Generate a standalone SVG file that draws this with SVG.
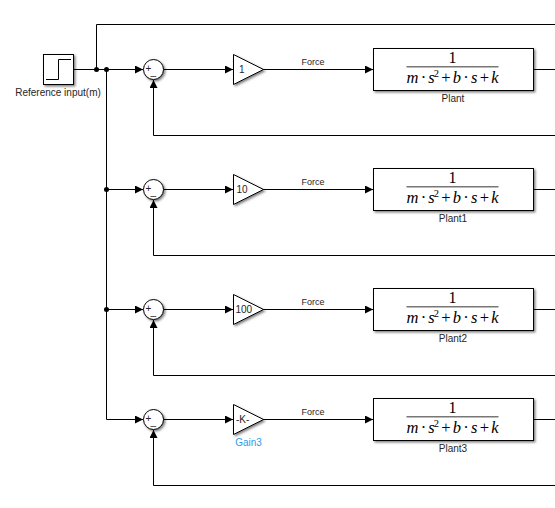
<svg xmlns="http://www.w3.org/2000/svg" width="555" height="508" viewBox="0 0 555 508">
<defs>
<filter id="sh" x="-20%" y="-20%" width="150%" height="150%"><feDropShadow dx="1.5" dy="1.5" stdDeviation="1.3" flood-color="#000" flood-opacity="0.5"/></filter>
<marker id="arr" markerUnits="userSpaceOnUse" markerWidth="9" markerHeight="9" refX="8" refY="4" orient="auto"><path d="M0 0L8 4L0 8Z" fill="#000"/></marker>
<g id="tf">
<rect x="0" y="-22" width="160" height="42" class="b" filter="url(#sh)"/>
<line x1="33" x2="125" y1="-3.800" y2="-3.800" stroke="#777" stroke-width="1.6"/>
<text x="79" y="-7.500" class="m" text-anchor="middle" font-size="16">1</text>
<text x="33" y="12.200" class="m" font-size="16.500" textLength="92"><tspan font-style="italic">m</tspan> · <tspan font-style="italic">s</tspan><tspan dy="-6" font-size="10.500">2</tspan><tspan dy="6"> + </tspan><tspan font-style="italic">b</tspan> · <tspan font-style="italic">s</tspan> + <tspan font-style="italic">k</tspan></text>
</g>
<g id="sum">
<circle cx="0" cy="0" r="10" class="b" filter="url(#sh)"/>
<text x="-8" y="2.500" class="l t">+</text>
<text x="-3" y="5" class="l t">_</text>
</g>
</defs>
<style>
.b{fill:#fff;stroke:#000;stroke-width:1}
.w{fill:none;stroke:#000;stroke-width:1}
.l{font-family:"Liberation Sans",Arial,sans-serif;font-size:9px;fill:#262626}
.t{font-size:10px}
.m{font-family:"Liberation Serif","Times New Roman",serif;fill:#000}
.c{text-anchor:middle}
.d{fill:#000}
</style>
<g id="connectors">
<path class="w" d="M73 69.500H143" marker-end="url(#arr)"/>
<path class="w" d="M96.500 69.500V24.500H555"/>
<path class="w" d="M106.500 69.500V419.500H143" marker-end="url(#arr)"/>
<path class="w" d="M106.500 189.500H143" marker-end="url(#arr)"/>
<path class="w" d="M106.500 309.500H143" marker-end="url(#arr)"/>
<circle class="d" cx="96.500" cy="69.500" r="2.500"/><circle class="d" cx="106.500" cy="69.500" r="2.500"/>
<circle class="d" cx="106.500" cy="189.500" r="2.500"/><circle class="d" cx="106.500" cy="309.500" r="2.500"/>
<path class="w" d="M163 69.500H233" marker-end="url(#arr)"/>
<path class="w" d="M163 189.500H233" marker-end="url(#arr)"/>
<path class="w" d="M163 309.500H233" marker-end="url(#arr)"/>
<path class="w" d="M163 419.500H233" marker-end="url(#arr)"/>
<path class="w" d="M263 69.500H373" marker-end="url(#arr)"/>
<path class="w" d="M263 189.500H373" marker-end="url(#arr)"/>
<path class="w" d="M263 309.500H373" marker-end="url(#arr)"/>
<path class="w" d="M263 419.500H373" marker-end="url(#arr)"/>
<path class="w" d="M533 69.500H555"/><path class="w" d="M533 189.500H555"/><path class="w" d="M533 309.500H555"/><path class="w" d="M533 419.500H555"/>
<path class="w" d="M555 135.500H153.500V80" marker-end="url(#arr)"/>
<path class="w" d="M555 255.500H153.500V200" marker-end="url(#arr)"/>
<path class="w" d="M555 375.500H153.500V320" marker-end="url(#arr)"/>
<path class="w" d="M555 485.500H153.500V430" marker-end="url(#arr)"/>
<text class="l c" x="313" y="65">Force</text>
<text class="l c" x="313" y="185">Force</text>
<text class="l c" x="313" y="305">Force</text>
<text class="l c" x="313" y="415">Force</text>
</g>
<g id="step">
<rect x="43.500" y="54.500" width="30" height="30" class="b" filter="url(#sh)"/>
<path class="w" d="M46 79.500H58.500V59.500H71"/>
<text class="l t c" x="58" y="96">Reference input(m)</text>
</g>
<g id="sum0"><use href="#sum" x="153.500" y="69.500"/></g>
<g id="sum1"><use href="#sum" x="153.500" y="189.500"/></g>
<g id="sum2"><use href="#sum" x="153.500" y="309.500"/></g>
<g id="sum3"><use href="#sum" x="153.500" y="419.500"/></g>
<g id="gain0"><path class="b" filter="url(#sh)" d="M233.500 54.500L263.500 69.500L233.500 84.500Z"/><text class="l t" x="239" y="73">1</text></g>
<g id="gain1"><path class="b" filter="url(#sh)" d="M233.500 174.500L263.500 189.500L233.500 204.500Z"/><text class="l t" x="236.500" y="193">10</text></g>
<g id="gain2"><path class="b" filter="url(#sh)" d="M233.500 294.500L263.500 309.500L233.500 324.500Z"/><text class="l t" x="235.500" y="313">100</text></g>
<g id="gain3"><path class="b" filter="url(#sh)" d="M233.500 404.500L263.500 419.500L233.500 434.500Z"/><text class="l t" x="236" y="423">-K-</text><text class="l t c" x="248.500" y="446" style="fill:#2f9be8">Gain3</text></g>
<g id="plant0"><use href="#tf" x="373.500" y="70.500"/><text class="l t c" x="453" y="102">Plant</text></g>
<g id="plant1"><use href="#tf" x="373.500" y="190.500"/><text class="l t c" x="453" y="222">Plant1</text></g>
<g id="plant2"><use href="#tf" x="373.500" y="310.500"/><text class="l t c" x="453" y="342">Plant2</text></g>
<g id="plant3"><use href="#tf" x="373.500" y="420.500"/><text class="l t c" x="453" y="452">Plant3</text></g>
</svg>
